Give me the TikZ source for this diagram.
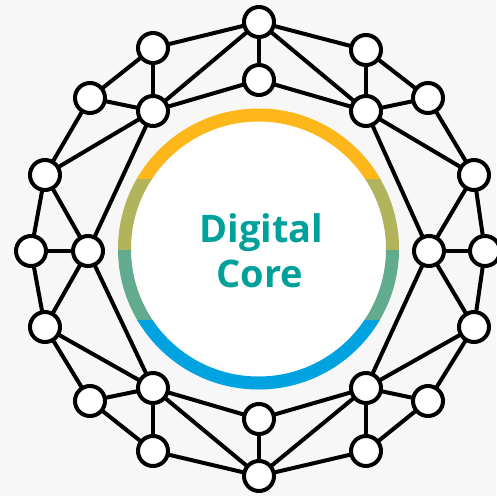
\documentclass[tikz,border=0pt]{standalone}
\usepackage{fontspec}
\newfontfamily\dcfont{Open Sans}
\definecolor{bg}{HTML}{F7F7F7}
\definecolor{ringY}{HTML}{FDB71A}
\definecolor{ringO}{HTML}{B1B45A}
\definecolor{ringG}{HTML}{63AB8F}
\definecolor{ringB}{HTML}{00A3E0}
\definecolor{teal}{HTML}{00A19A}
\tikzset{
  netnode/.style={circle, draw=black, fill=white, line width=4pt, minimum size=30pt, inner sep=0pt},
  netline/.style={draw=black, line width=4pt},
  label/.style={font=\dcfont\bfseries\fontsize{38}{38}\selectfont, text=teal, anchor=base, inner sep=0pt}
}
\begin{document}
\begin{tikzpicture}[x=1pt,y=-1pt]
\fill[bg] (0,0) rectangle (496,496);
\useasboundingbox (0,0) rectangle (496,496);
% centre ring
\coordinate (c) at (258.5,249);
\fill[white] (c) circle (134);
\foreach \col/\ya/\yb in {ringY/0/179, ringO/179/250, ringG/250/320, ringB/320/496}{
  \begin{scope}
    \clip (0,\ya) rectangle (496,\yb);
    \draw[\col, line width=13pt] (c) circle (134);
  \end{scope}
}
\node[label] (t1) at (261.5,242) {Digital};
\node[label] (t2) at (260,287) {Core};
% nodes
\foreach \n/\x/\y in {O0/259/22, O1/366/50, O2/428/98, O3/474/175, O4/485/251, O5/474/327,
  O6/428/401, O7/366/451, O8/259/476, O9/153/451, O10/90/401, O11/45/327, O12/31/251,
  O13/45/175, O14/90/98, O15/153/48,
  I0/259/80, I1/366/111, I2/429/251, I3/366/388, I4/259/419, I5/153/388, I6/88/251, I7/153/111}{
  \coordinate (\n) at (\x,\y);
}
\foreach \a/\b in {O15/O0, O15/O14, O15/I7, O14/I7, I7/O0, I7/I0, O14/O13, I7/O13, I7/I6,
  O13/O12, O13/I6, O12/I6, O0/I0,
  O0/O1, O0/I1, I0/I1, O1/I1, O1/O2, I1/O2, O2/O3, I1/O3, I1/I2, O3/I2, O3/O4, I2/O4,
  I2/O5, O4/O5, I2/I3, O5/I3, O5/O6, I3/O6, I3/O7, O6/O7, I3/I4, I3/O8, O7/O8, I4/O8,
  I6/O11, O12/O11, I6/I5, O11/I5, O11/O10, O10/I5, I5/O9, O10/O9, I5/I4, I5/O8, O9/O8}{
  \draw[netline] (\a) -- (\b);
}
\foreach \n in {O0,O1,O2,O3,O4,O5,O6,O7,O8,O9,O10,O11,O12,O13,O14,O15,I0,I1,I2,I3,I4,I5,I6,I7}{
  \node[netnode] (n\n) at (\n) {};
}
\end{tikzpicture}
\end{document}
